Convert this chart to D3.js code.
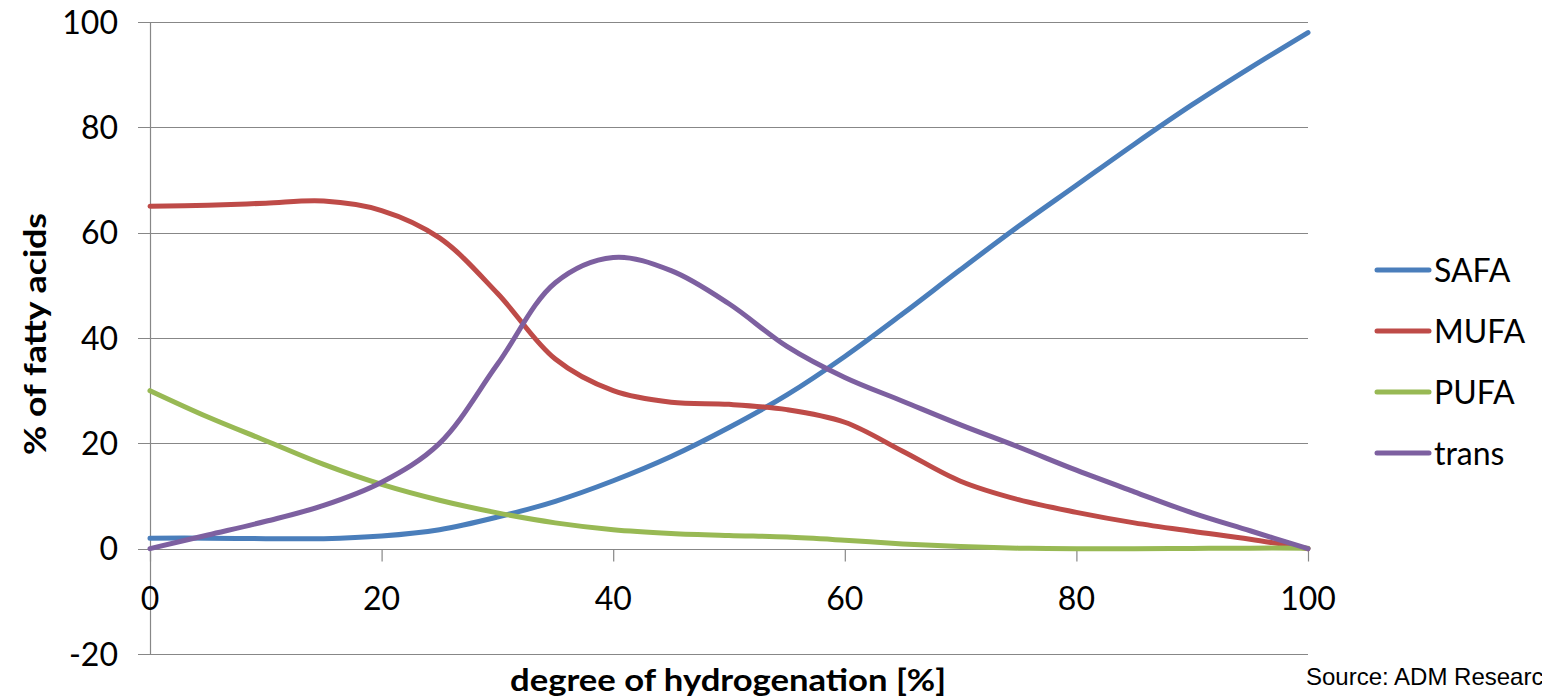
<!DOCTYPE html>
<html>
<head>
<meta charset="utf-8">
<script src="https://cdn.jsdelivr.net/npm/d3@7"></script>
<style>
  html, body { margin: 0; padding: 0; background: #fff; }
  svg { display: block; }
</style>
</head>
<body>
<div id="chart"></div>
<script>
// degree of hydrogenation (x) and fatty acid shares
var hydrogenation = [0, 5, 10, 15, 20, 25, 30, 35, 40, 45, 50, 55, 60, 65, 70, 75, 80, 85, 90, 95, 100];
var safa  = [2, 2, 1.9, 1.9, 2.4, 3.6, 6, 9, 12.9, 17.5, 23, 29.2, 36.5, 44.6, 53, 61.2, 69, 76.8, 84.3, 91.3, 98];
var mufa  = [65, 65.2, 65.6, 66, 64.2, 59, 48.5, 36, 30, 27.8, 27.4, 26.4, 24, 18.5, 12.8, 9.3, 6.9, 4.9, 3.3, 1.8, 0];
var pufa  = [30, 25, 20.5, 16, 12.2, 9.2, 6.8, 4.9, 3.6, 2.9, 2.5, 2.2, 1.6, 0.9, 0.4, 0.1, 0, 0, 0.05, 0.1, 0.1];
var trans = [0, 2.6, 5.2, 8.2, 12.6, 20, 35, 50.5, 55.3, 52.8, 46.5, 38.4, 32.5, 28, 23.5, 19.3, 14.9, 10.8, 6.8, 3.4, 0];

var seriesNames = ["SAFA", "MUFA", "PUFA", "trans"];
var seriesValues = [safa, mufa, pufa, trans];
var seriesColors = ["#4A7EBB", "#BE4B48", "#98B954", "#7D60A0"];

var xTicks = [0, 20, 40, 60, 80, 100];
var yTicks = [-20, 0, 20, 40, 60, 80, 100];

var width = 1542, height = 699;
var plot = { left: 150, right: 1308, top: 22, bottom: 654 };
var gridColor = "#878787";
var labelFont = "Lato, 'Open Sans', sans-serif";

var svg = d3.select("#chart").append("svg")
  .attr("width", width)
  .attr("height", height);

var x = d3.scaleLinear().domain([0, 100]).range([plot.left, plot.right]);
var y = d3.scaleLinear().domain([-20, 100]).range([plot.bottom, plot.top]);

// horizontal gridlines (extend left of the axis as tick marks)
svg.append("g").attr("class", "grid")
  .selectAll("line").data(yTicks).enter().append("line")
  .attr("x1", plot.left - 12)
  .attr("x2", plot.right)
  .attr("y1", function(d) { return Math.round(y(d)) + 0.5; })
  .attr("y2", function(d) { return Math.round(y(d)) + 0.5; })
  .style("stroke", gridColor)
  .style("stroke-width", 1.2);

// vertical axis line
svg.append("line")
  .attr("x1", plot.left + 0.5).attr("x2", plot.left + 0.5)
  .attr("y1", plot.top).attr("y2", plot.bottom)
  .style("stroke", gridColor)
  .style("stroke-width", 1.2);

// y tick labels
svg.append("g").selectAll("text").data(yTicks).enter().append("text")
  .attr("x", plot.left - 32)
  .attr("y", function(d) { return y(d); })
  .attr("dy", "0.36em")
  .attr("text-anchor", "end")
  .style("font-family", labelFont)
  .style("font-size", "32px")
  .style("fill", "#000")
  .text(function(d) { return d; });

// x axis: ticks hang below the zero line
var xAxis = d3.axisBottom(x).tickValues(xTicks).tickSize(12).tickFormat("");
var gx = svg.append("g")
  .attr("transform", "translate(0," + (Math.round(y(0)) + 0.5) + ")")
  .call(xAxis);
gx.select(".domain").remove();
gx.selectAll(".tick line").style("stroke", gridColor).style("stroke-width", 1.2);

svg.append("g").selectAll("text").data(xTicks).enter().append("text")
  .attr("x", function(d) { return x(d); })
  .attr("y", y(0) + 50)
  .attr("dy", "0.36em")
  .attr("text-anchor", "middle")
  .style("font-family", labelFont)
  .style("font-size", "32px")
  .style("fill", "#000")
  .text(function(d) { return d; });

// series lines
var line = d3.line()
  .x(function(d) { return x(d[0]); })
  .y(function(d) { return y(d[1]); })
  .curve(d3.curveCatmullRom.alpha(0.5));

seriesValues.forEach(function(vals, i) {
  var pts = hydrogenation.map(function(h, j) { return [h, vals[j]]; });
  svg.append("path")
    .datum(pts)
    .attr("d", line)
    .style("fill", "none")
    .style("stroke", seriesColors[i])
    .style("stroke-width", 5)
    .style("stroke-linecap", "round")
    .style("stroke-linejoin", "round");
});

// legend
var legend = svg.append("g").attr("class", "legend");
var legendY = [270, 331, 392, 453];
seriesNames.forEach(function(name, i) {
  legend.append("line")
    .attr("x1", 1377).attr("x2", 1429)
    .attr("y1", legendY[i]).attr("y2", legendY[i])
    .style("stroke", seriesColors[i])
    .style("stroke-width", 5)
    .style("stroke-linecap", "round");
  legend.append("text")
    .attr("x", 1434)
    .attr("y", legendY[i])
    .attr("dy", "0.36em")
    .style("font-family", labelFont)
    .style("font-size", "32px")
    .style("fill", "#000")
    .text(name);
});

// axis titles
svg.append("text")
  .attr("x", 728)
  .attr("y", 680)
  .attr("dy", "0.36em")
  .attr("text-anchor", "middle")
  .attr("textLength", 436)
  .attr("lengthAdjust", "spacingAndGlyphs")
  .style("font-family", labelFont)
  .style("font-weight", "bold")
  .style("font-size", "30px")
  .text("degree of hydrogenation [%]");

svg.append("text")
  .attr("transform", "translate(35,334) rotate(-90)")
  .attr("dy", "0.36em")
  .attr("text-anchor", "middle")
  .attr("textLength", 242)
  .attr("lengthAdjust", "spacingAndGlyphs")
  .style("font-family", labelFont)
  .style("font-weight", "bold")
  .style("font-size", "31px")
  .text("% of fatty acids");

// source note, runs off the right edge as in the original
svg.append("text")
  .attr("x", 1306)
  .attr("y", 685)
  .style("font-family", "'Liberation Sans', Arial, sans-serif")
  .style("font-size", "24px")
  .style("fill", "#000")
  .text("Source: ADM Research");
</script>
</body>
</html>
